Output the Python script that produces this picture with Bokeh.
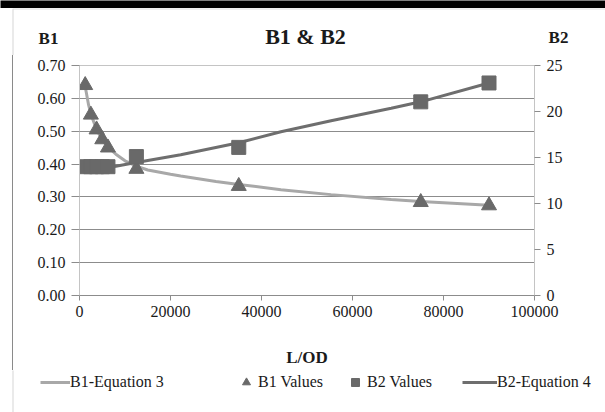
from bokeh.plotting import figure
from bokeh.layouts import column, row
from bokeh.models import (Range1d, LinearAxis, FixedTicker, NumeralTickFormatter,
                          Label, Legend, LegendItem, BoxAnnotation, Spacer)
from bokeh.embed import file_html
from bokeh.resources import INLINE

# Measured points
lod_points = [1250, 2500, 3750, 5000, 6250, 12500, 35000, 75000, 90000]
b1_values = [0.64, 0.55, 0.505, 0.475, 0.45, 0.385, 0.333, 0.284, 0.274]
b2_values = [14.0, 14.0, 14.0, 14.0, 14.0, 15.1, 16.1, 21.05, 23.1]

# Fitted curves
eq3_lod = [1250, 2000, 2500, 3750, 5000, 6250, 8000, 10000, 12500, 15000, 20000,
           22250, 30000, 35000, 44270, 55290, 68500, 75000, 90000]
b1_eq3 = [0.636, 0.58, 0.552, 0.505, 0.474, 0.452, 0.43, 0.41, 0.394, 0.382, 0.369,
          0.364, 0.347, 0.338, 0.322, 0.307, 0.292, 0.286, 0.275]
eq4_lod = [1250, 5000, 8000, 11230, 22250, 35000, 44270, 55290, 68500, 75000, 90000]
b2_eq4 = [13.6, 13.85, 14.05, 14.34, 15.3, 16.6, 17.8, 19.0, 20.35, 21.05, 23.1]

x_ticks = [0, 20000, 40000, 60000, 80000, 100000]
b1_ticks = [0.0, 0.1, 0.2, 0.3, 0.4, 0.5, 0.6, 0.7]
b2_ticks = [0, 5, 10, 15, 20, 25]

FONT = "Liberation Serif"
TXT = "#1a1a1a"
BORDER = "#8a8a8a"
C_EQ3 = "#a8a8a8"
C_EQ4 = "#6e6e6e"
C_MARK = "#696969"
NAN = float("nan")


def blank(width, height, xr, yr):
    f = figure(width=width, height=height, x_range=xr, y_range=yr, min_border=0,
               toolbar_location=None, output_backend="svg",
               x_axis_type=None, y_axis_type=None)
    f.grid.visible = False
    f.outline_line_color = None
    f.background_fill_color = "white"
    f.border_fill_color = "white"
    return f


# ---- header: black strip, chart border, titles (y measured downward in px)
head = blank(605, 55, Range1d(0, 605), Range1d(55, 0))
head.add_layout(BoxAnnotation(left=-10, right=700, top=-10, bottom=7.5,
                              fill_color="black", fill_alpha=1, line_color=None))
head.add_layout(BoxAnnotation(left=12.5, right=700, top=8.5, bottom=200,
                              fill_alpha=0, line_color=BORDER, line_width=1.2))
for txt, x, y, size in [("B1 & B2", 305, 36, "22px"), ("B1", 48, 38, "17px"),
                        ("B2", 558, 37, "17px")]:
    head.add_layout(Label(x=x, y=y, text=txt, text_font=FONT, text_font_size=size,
                          text_font_style="bold", text_align="center",
                          text_baseline="middle", text_color=TXT))

# ---- left edge of the chart border beside the main chart
edge = Spacer(width=13, height=315, margin=0,
              styles={"background": "linear-gradient(to right, #ffffff 12px, %s 12px)" % BORDER})

# ---- main chart
p = figure(width=592, height=315, output_backend="svg", toolbar_location=None,
           x_range=Range1d(0, 100000), y_range=Range1d(0, 0.7),
           min_border_left=66, min_border_right=71, min_border_top=10, min_border_bottom=75)
p.extra_y_ranges = {"b2": Range1d(0, 25)}
p.background_fill_color = "white"
p.border_fill_color = "white"
p.outline_line_color = "#c4c4c4"

p.xgrid.visible = False
p.ygrid.ticker = FixedTicker(ticks=b1_ticks[1:-1])
p.ygrid.grid_line_color = "#8c8c8c"
p.ygrid.grid_line_width = 1

xa = p.xaxis[0]
xa.ticker = FixedTicker(ticks=x_ticks)
xa.formatter = NumeralTickFormatter(format="0")
xa.axis_line_color = "#8c8c8c"
xa.major_tick_out = 5
xa.major_label_standoff = 5
xa.axis_label = "L/OD"
xa.axis_label_text_font = FONT
xa.axis_label_text_font_size = "17px"
xa.axis_label_text_font_style = "bold"
xa.axis_label_text_color = TXT
xa.axis_label_standoff = 28

ya = p.yaxis[0]
ya.ticker = FixedTicker(ticks=b1_ticks)
ya.formatter = NumeralTickFormatter(format="0.00")
ya.axis_line_color = "#c4c4c4"
ya.major_tick_out = 8
ya.major_label_standoff = 6

ra = LinearAxis(y_range_name="b2", ticker=FixedTicker(ticks=b2_ticks))
ra.axis_line_color = "#c4c4c4"
ra.major_tick_out = 6
ra.major_label_standoff = 6
p.add_layout(ra, "right")

for ax in (xa, ya, ra):
    ax.major_tick_in = 0
    ax.major_tick_line_color = "#8c8c8c"
    ax.minor_tick_line_color = None
    ax.major_label_text_font = FONT
    ax.major_label_text_font_size = "16px"
    ax.major_label_text_color = TXT

p.line(eq3_lod, b1_eq3, line_color=C_EQ3, line_width=3)
p.line(eq4_lod, b2_eq4, line_color=C_EQ4, line_width=3, y_range_name="b2")
p.scatter(lod_points, b1_values, marker="triangle", size=15, fill_color=C_MARK,
          line_color=C_MARK)
p.scatter(lod_points, b2_values, marker="square", size=14, fill_color=C_MARK,
          line_color=C_MARK, y_range_name="b2")

# ---- legend strip across the full width (keys are styled stand-ins with no data)
leg = blank(605, 42, Range1d(0, 605), Range1d(0, 42))
leg.add_layout(BoxAnnotation(left=12.5, right=700, top=100, bottom=-100,
                             fill_alpha=0, line_color=BORDER, line_width=1.2))
k1 = leg.line([NAN, NAN], [NAN, NAN], line_color=C_EQ3, line_width=3)
k2 = leg.scatter([NAN], [NAN], marker="triangle", size=10, fill_color=C_MARK, line_color=C_MARK)
k3 = leg.scatter([NAN], [NAN], marker="square", size=10, fill_color=C_MARK, line_color=C_MARK)
k4 = leg.line([NAN, NAN], [NAN, NAN], line_color=C_EQ4, line_width=3)

for label, rend, x, gw, so in [("B1-Equation 3", k1, 40, 30, 0),
                               ("B1 Values", k2, 236, 20, 2),
                               ("B2 Values", k3, 345, 20, 2),
                               ("B2-Equation 4", k4, 462, 35, 0)]:
    leg.add_layout(Legend(items=[LegendItem(label=label, renderers=[rend])],
                          location=(x, 20), orientation="horizontal", padding=0, margin=0,
                          border_line_color=None, background_fill_alpha=0,
                          glyph_width=gw, glyph_height=20, label_standoff=so,
                          label_height=20, label_text_font=FONT,
                          label_text_font_size="16px", label_text_color=TXT))

layout = column(head, row(edge, p, spacing=0), leg, spacing=0)

open("out.html", "w").write(file_html(layout, INLINE))
